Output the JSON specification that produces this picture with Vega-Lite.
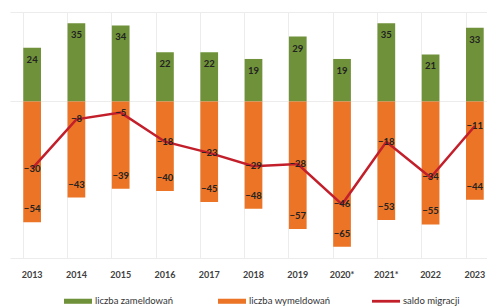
{
  "$schema": "https://vega.github.io/schema/vega-lite/v6.json",
  "width": 487,
  "height": 246,
  "padding": {"left": 10, "top": 12, "right": 0, "bottom": 0},
  "background": "white",
  "config": {
    "view": {"stroke": null},
    "font": "Lato",
    "axis": {"domain": false, "ticks": false}
  },
  "data": {
    "values": [
      {"year": "2013", "series": "liczba zameldowań", "value": 24},
      {"year": "2014", "series": "liczba zameldowań", "value": 35},
      {"year": "2015", "series": "liczba zameldowań", "value": 34},
      {"year": "2016", "series": "liczba zameldowań", "value": 22},
      {"year": "2017", "series": "liczba zameldowań", "value": 22},
      {"year": "2018", "series": "liczba zameldowań", "value": 19},
      {"year": "2019", "series": "liczba zameldowań", "value": 29},
      {"year": "2020*", "series": "liczba zameldowań", "value": 19},
      {"year": "2021*", "series": "liczba zameldowań", "value": 35},
      {"year": "2022", "series": "liczba zameldowań", "value": 21},
      {"year": "2023", "series": "liczba zameldowań", "value": 33},
      {"year": "2013", "series": "liczba wymeldowań", "value": -54},
      {"year": "2014", "series": "liczba wymeldowań", "value": -43},
      {"year": "2015", "series": "liczba wymeldowań", "value": -39},
      {"year": "2016", "series": "liczba wymeldowań", "value": -40},
      {"year": "2017", "series": "liczba wymeldowań", "value": -45},
      {"year": "2018", "series": "liczba wymeldowań", "value": -48},
      {"year": "2019", "series": "liczba wymeldowań", "value": -57},
      {"year": "2020*", "series": "liczba wymeldowań", "value": -65},
      {"year": "2021*", "series": "liczba wymeldowań", "value": -53},
      {"year": "2022", "series": "liczba wymeldowań", "value": -55},
      {"year": "2023", "series": "liczba wymeldowań", "value": -44},
      {"year": "2013", "series": "saldo migracji", "value": -30},
      {"year": "2014", "series": "saldo migracji", "value": -8},
      {"year": "2015", "series": "saldo migracji", "value": -5},
      {"year": "2016", "series": "saldo migracji", "value": -18},
      {"year": "2017", "series": "saldo migracji", "value": -23},
      {"year": "2018", "series": "saldo migracji", "value": -29},
      {"year": "2019", "series": "saldo migracji", "value": -28},
      {"year": "2020*", "series": "saldo migracji", "value": -46},
      {"year": "2021*", "series": "saldo migracji", "value": -18},
      {"year": "2022", "series": "saldo migracji", "value": -34},
      {"year": "2023", "series": "saldo migracji", "value": -11}
    ]
  },
  "encoding": {
    "x": {
      "field": "year",
      "type": "ordinal",
      "sort": null,
      "title": null,
      "scale": {"paddingInner": 0.6, "paddingOuter": 0.3},
      "axis": {
        "labelAngle": 0,
        "labelFont": "Lato",
        "labelFontSize": 9,
        "labelFontWeight": "bold",
        "labelColor": "#404040",
        "labelPadding": 12,
        "grid": true,
        "bandPosition": 0,
        "gridColor": "#ececec",
        "gridWidth": 1
      }
    },
    "y": {
      "field": "value",
      "type": "quantitative",
      "title": null,
      "scale": {"domain": [-70, 40], "nice": false},
      "axis": {
        "values": [-70, 0, 40],
        "labels": false,
        "grid": true,
        "gridColor": "#ececec",
        "gridWidth": 1
      }
    }
  },
  "layer": [
    {
      "transform": [{"filter": "datum.series !== 'saldo migracji'"}],
      "mark": {"type": "bar"},
      "encoding": {
        "color": {
          "field": "series",
          "type": "nominal",
          "sort": null,
          "scale": {
            "domain": ["liczba zameldowań", "liczba wymeldowań", "saldo migracji"],
            "range": ["#6f9139", "#eb7426", "#c21f2b"]
          },
          "legend": {
            "title": null,
            "orient": "none",
            "legendX": 54,
            "legendY": 275,
            "direction": "horizontal",
            "columns": 3,
            "gridAlign": "all",
            "columnPadding": 41,
            "padding": 0,
            "labelFont": "Lato",
            "labelFontSize": 9.5,
            "labelColor": "#333333",
            "labelOffset": 3,
            "symbolSize": 784,
            "symbolStrokeWidth": 0,
            "symbolType": "M-1,-0.18L1,-0.18L1,0.18L-1,0.18Z",
            "encode": {
              "symbols": {
                "update": {
                  "shape": {"signal": "datum.value === 'saldo migracji' ? 'M-1,-0.1L1,-0.1L1,0.1L-1,0.1Z' : 'M-1,-0.18L1,-0.18L1,0.18L-1,0.18Z'"}
                }
              }
            }
          }
        }
      }
    },
    {
      "transform": [{"filter": "datum.series === 'liczba zameldowań'"}],
      "mark": {"type": "text", "yOffset": 12, "fontWeight": "bold", "fontSize": 9.5, "color": "#222222", "font": "Lato"},
      "encoding": {"text": {"field": "value", "type": "quantitative"}}
    },
    {
      "transform": [{"filter": "datum.series === 'liczba wymeldowań'"}],
      "mark": {"type": "text", "yOffset": -13, "fontWeight": "bold", "fontSize": 9.5, "color": "#222222", "font": "Lato"},
      "encoding": {"text": {"field": "value", "type": "quantitative"}}
    },
    {
      "transform": [{"filter": "datum.series === 'saldo migracji'"}],
      "mark": {"type": "line", "strokeWidth": 2.5},
      "encoding": {
        "color": {"field": "series", "type": "nominal", "sort": null}
      }
    },
    {
      "transform": [{"filter": "datum.series === 'saldo migracji'"}],
      "mark": {"type": "text", "fontWeight": "bold", "fontSize": 9.5, "color": "#222222", "font": "Lato"},
      "encoding": {"text": {"field": "value", "type": "quantitative"}}
    }
  ]
}
